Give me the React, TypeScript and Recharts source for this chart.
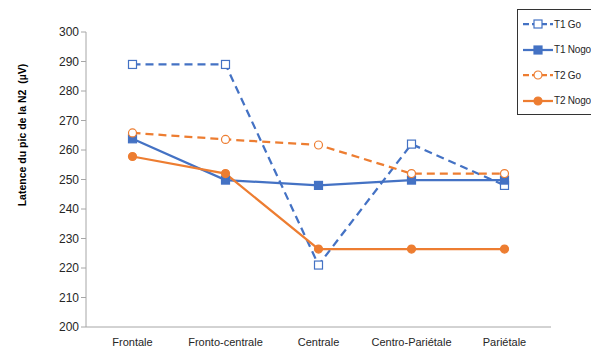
import React from "react";
import { LineChart, Line, XAxis, YAxis } from "recharts";

const categories = ["Frontale", "Fronto-centrale", "Centrale", "Centro-Pariétale", "Pariétale"];
const t1Go = [289, 289, 221, 262, 248];
const t1Nogo = [263.8, 249.8, 248, 249.8, 249.8];
const t2Go = [265.8, 263.6, 261.7, 252, 252];
const t2Nogo = [257.8, 252, 226.4, 226.4, 226.4];
const yTicks = [200, 210, 220, 230, 240, 250, 260, 270, 280, 290, 300];

const data = categories.map((c, i) => ({
  name: c,
  t1Go: t1Go[i],
  t1Nogo: t1Nogo[i],
  t2Go: t2Go[i],
  t2Nogo: t2Nogo[i],
}));

const BLUE = "#4472C4";
const ORANGE = "#ED7D31";
const FONT = "'Liberation Sans', Arial, sans-serif";

const SquareDot = (filled: boolean) => (p: any) => (
  <rect key={p.index} x={p.cx - 4} y={p.cy - 4} width={8} height={8}
    fill={filled ? BLUE : "#fff"} stroke={BLUE} strokeWidth={1.2} />
);
const CircleDot = (filled: boolean) => (p: any) => (
  <circle key={p.index} cx={p.cx} cy={p.cy} r={4}
    fill={filled ? ORANGE : "#fff"} stroke={ORANGE} strokeWidth={1.2} />
);

const legendItems = [
  { label: "T1 Go", color: BLUE, dash: true, marker: "square", filled: false },
  { label: "T1 Nogo", color: BLUE, dash: false, marker: "square", filled: true },
  { label: "T2 Go", color: ORANGE, dash: true, marker: "circle", filled: false },
  { label: "T2 Nogo", color: ORANGE, dash: false, marker: "circle", filled: true },
];

export default function App() {
  return (
    <div style={{ position: "absolute", left: 0, top: 0, width: 591, height: 350, background: "#fff", overflow: "hidden", fontFamily: FONT }}>
      <LineChart width={591} height={350} data={data} margin={{ top: 32, right: 40, bottom: 3, left: 46 }}>
        <XAxis dataKey="name" scale="band" axisLine={{ stroke: "#A6A6A6" }} tickLine={false} tickSize={9}
          tick={{ fill: "#262626", fontSize: 11, fontFamily: FONT }} height={20} interval={0} />
        <YAxis domain={[200, 300]} ticks={yTicks} width={40} axisLine={{ stroke: "#A6A6A6" }}
          tickLine={{ stroke: "#A6A6A6" }} tickSize={5}
          tick={{ fill: "#262626", fontSize: 12, fontFamily: FONT }} />
        <Line dataKey="t1Go" stroke={BLUE} strokeWidth={2.25} strokeDasharray="8 5" dot={SquareDot(false)} isAnimationActive={false} />
        <Line dataKey="t1Nogo" stroke={BLUE} strokeWidth={2.25} dot={SquareDot(true)} isAnimationActive={false} />
        <Line dataKey="t2Go" stroke={ORANGE} strokeWidth={2.25} strokeDasharray="8 5" dot={CircleDot(false)} isAnimationActive={false} />
        <Line dataKey="t2Nogo" stroke={ORANGE} strokeWidth={2.25} dot={CircleDot(true)} isAnimationActive={false} />
      </LineChart>
      <div style={{ position: "absolute", left: 22, top: 135, transform: "translate(-50%, -50%) rotate(-90deg)", whiteSpace: "pre", fontSize: 10.5, fontWeight: "bold", color: "#000" }}>
        {"Latence du pic de la N2  (µV)"}
      </div>
      <div style={{ position: "absolute", left: 517, top: 9, width: 90, height: 104, border: "1px solid #333", background: "#fff" }}>
        {legendItems.map((it, i) => (
          <div key={it.label} style={{ position: "absolute", left: 4, top: 6 + i * 25.5, height: 16, display: "flex", alignItems: "center" }}>
            <svg width={32} height={16}>
              <line x1={1} y1={8} x2={31} y2={8} stroke={it.color} strokeWidth={2.25} strokeDasharray={it.dash ? "6 3" : undefined} />
              {it.marker === "square" ? (
                <rect x={12} y={4} width={8} height={8} fill={it.filled ? it.color : "#fff"} stroke={it.color} strokeWidth={1.2} />
              ) : (
                <circle cx={16} cy={8} r={4} fill={it.filled ? it.color : "#fff"} stroke={it.color} strokeWidth={1.2} />
              )}
            </svg>
            <span style={{ fontSize: 10, letterSpacing: -0.2, color: "#262626", marginLeft: 0, whiteSpace: "nowrap" }}>{it.label}</span>
          </div>
        ))}
      </div>
    </div>
  );
}
